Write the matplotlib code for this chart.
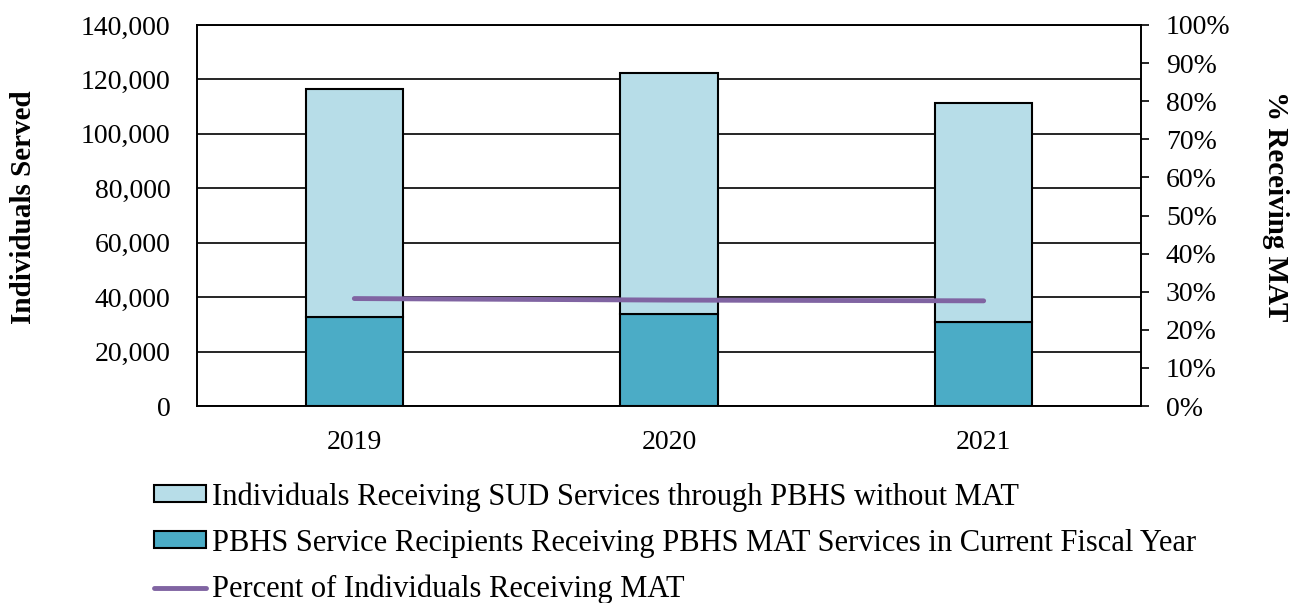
import numpy as np
import matplotlib.pyplot as plt
from matplotlib.ticker import FuncFormatter, MultipleLocator

plt.rcParams['font.family'] = ['Liberation Serif', 'DejaVu Serif']

years = ['2019', '2020', '2021']
mat = [32600, 33800, 30900]          # PBHS MAT recipients
no_mat = [83900, 88600, 80500]       # SUD services without MAT
pct_mat = [28.2, 27.8, 27.6]         # percent receiving MAT

light = '#b7dde8'
dark = '#4bacc6'
purple = '#8064a2'

W, H = 1294, 603
fig = plt.figure(figsize=(W / 100, H / 100), dpi=100)
ax = fig.add_axes([197/W, 1 - 406/H, (1141-197)/W, (406-25)/H])

x = np.arange(len(years))
w = 0.31
b1 = ax.bar(x, mat, w, color=dark, edgecolor='black', linewidth=1.5, zorder=3)
b2 = ax.bar(x, no_mat, w, bottom=mat, color=light, edgecolor='black', linewidth=1.5, zorder=3)

ax.set_xlim(-0.5, 2.5)
ax.set_ylim(0, 140000)
ax.yaxis.set_major_locator(MultipleLocator(20000))
ax.yaxis.set_major_formatter(FuncFormatter(lambda v, p: f'{int(v):,}'))
ax.grid(axis='y', color='black', linewidth=1.2, zorder=0)
ax.set_axisbelow(True)
ax.set_xticks(x)
ax.set_xticklabels(years)
ax.tick_params(axis='x', length=0, labelsize=20, pad=17)
ax.tick_params(axis='y', length=0, labelsize=20, pad=19)
for s in ax.spines.values():
    s.set_linewidth(1.2)

ax2 = ax.twinx()
line, = ax2.plot(x, pct_mat, color=purple, linewidth=3.5, solid_capstyle='round', zorder=4)
ax2.set_ylim(0, 100)
ax2.yaxis.set_major_locator(MultipleLocator(10))
ax2.yaxis.set_major_formatter(FuncFormatter(lambda v, p: f'{int(v)}%'))
ax2.tick_params(axis='y', direction='out', length=6, width=1.2, labelsize=20, pad=12)
for s in ax2.spines.values():
    s.set_linewidth(1.2)

fig.text(24/W, 1 - 207/H, 'Individuals Served', rotation=90, ha='center', va='center',
         fontsize=21, fontweight='bold')
fig.text(1275/W, 1 - 206/H, '% Receiving MAT', rotation=-90, ha='center', va='center',
         fontsize=21, fontweight='bold')

fig.legend([b2, b1, line],
           ['Individuals Receiving SUD Services through PBHS without MAT',
            'PBHS Service Recipients Receiving PBHS MAT Services in Current Fiscal Year',
            'Percent of Individuals Receiving MAT'],
           loc='upper left', bbox_to_anchor=(154/W, 1 - 482/H), frameon=False,
           fontsize=22, handlelength=1.7, handleheight=0.46, handletextpad=0.2,
           labelspacing=0.56, borderaxespad=0, borderpad=0)

fig.savefig('out.png', dpi=100)
